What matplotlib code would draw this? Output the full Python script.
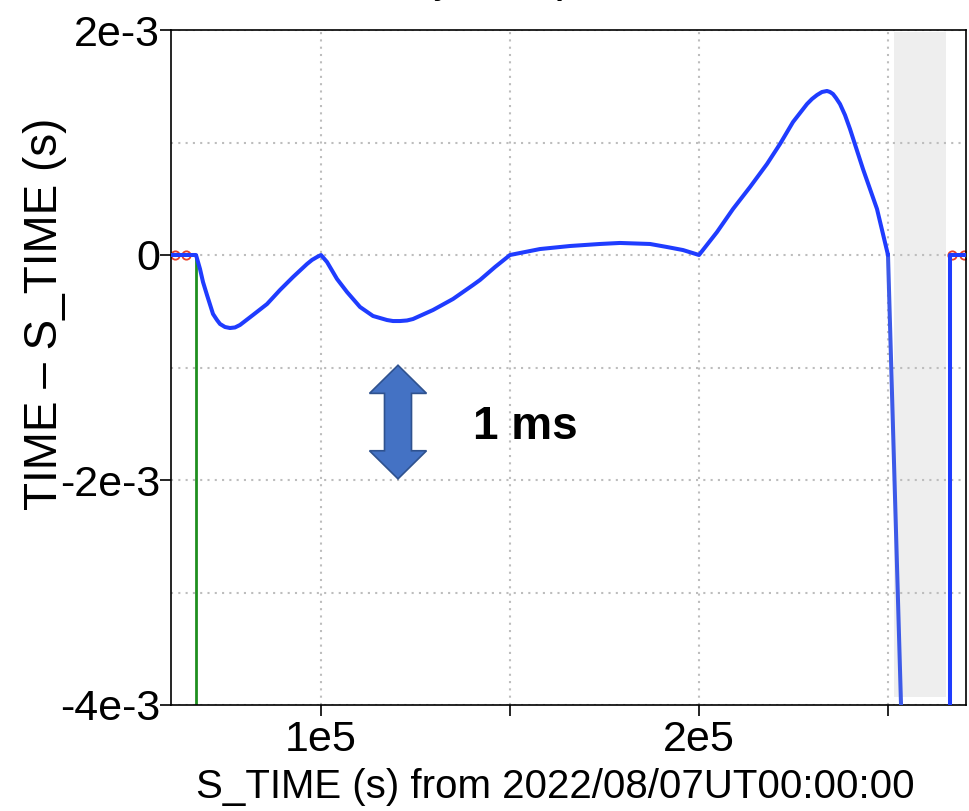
import numpy as np
import matplotlib.pyplot as plt
from matplotlib.patches import Polygon
from matplotlib.ticker import FixedLocator

plt.rcParams['font.family'] = ['Liberation Sans', 'DejaVu Sans']

# S_TIME (s) and TIME - S_TIME (s) for the main trace
s_time = [60317, 66931, 67989, 68783, 69841, 71428, 72486, 73280, 74602, 75925,
          77248, 78571, 82010, 85714, 89153, 92592, 96296, 97619, 98942, 100000,
          101587, 104233, 106878, 110317, 113756, 117460, 119048, 120899, 122751,
          124338, 129629, 134920, 140211, 142063, 146031, 150000, 157936, 165873,
          173809, 179100, 187037, 191534, 195767, 200000, 204762, 208995, 213492,
          217989, 221428, 224867, 228571, 229894, 231217, 232539, 233862, 234656,
          235449, 236243, 237301, 238624, 239947, 243386, 247090, 250000]
delta = [0.0, 0.0, -0.124e-3, -0.240e-3, -0.356e-3, -0.524e-3, -0.578e-3, -0.613e-3,
         -0.640e-3, -0.649e-3, -0.644e-3, -0.622e-3, -0.533e-3, -0.436e-3, -0.311e-3,
         -0.196e-3, -0.080e-3, -0.044e-3, -0.018e-3, 0.0, -0.062e-3, -0.213e-3,
         -0.329e-3, -0.462e-3, -0.542e-3, -0.578e-3, -0.587e-3, -0.587e-3, -0.582e-3,
         -0.569e-3, -0.489e-3, -0.391e-3, -0.267e-3, -0.222e-3, -0.107e-3, 0.0,
         0.053e-3, 0.080e-3, 0.098e-3, 0.107e-3, 0.098e-3, 0.071e-3, 0.044e-3, 0.0,
         0.204e-3, 0.409e-3, 0.604e-3, 0.809e-3, 0.987e-3, 1.182e-3, 1.342e-3,
         1.387e-3, 1.422e-3, 1.449e-3, 1.458e-3, 1.449e-3, 1.431e-3, 1.396e-3,
         1.342e-3, 1.244e-3, 1.120e-3, 0.764e-3, 0.409e-3, 0.0]

# the jump at the end of the pass and the recovered trace
jump_x = [250000, 253703]
jump_y = [0.0, -4.3e-3]
tail_x = [266402, 266402, 271000]
tail_y = [-4.3e-3, 0.0, 0.0]

# reference samples (red circles)
ref_x = [61300, 64200, 266800, 270000]
ref_y = [0.0, 0.0, 0.0, 0.0]

# start marker (green) and gap interval (grey)
start_x = 66931
gap_x = [251600, 265300]
gap_y = [-3.93e-3, 1.98e-3]

# 1 ms scale arrow
arrow_x = 120370
arrow_y = [-0.98e-3, -1.99e-3]

fig = plt.figure(figsize=(9.69, 8.11), dpi=100)
ax = fig.add_axes([171 / 969, 106 / 811, 795 / 969, 675 / 811])

ax.fill_between(gap_x, gap_y[0], gap_y[1], color='#eeeeee', lw=0, zorder=0.2)
ax.plot([start_x, start_x], [0, -4.5e-3], color='#1f8f1f', lw=2.0, zorder=2)
ax.plot(jump_x, jump_y, color='#3d5ae8', lw=2.9, zorder=3)
ax.plot(tail_x, tail_y, color='#1f3cff', lw=2.9, zorder=3)
ax.plot(ref_x, ref_y, 'o', ms=6, mfc='none', mec='#e8402a', mew=1.3, zorder=2.5)
ax.plot(s_time, delta, color='#1f3cff', lw=2.9, zorder=3,
        solid_joinstyle='round', solid_capstyle='round')

# double headed block arrow
hw, sw, hl = 7540, 3571, 0.25e-3
top, bot = arrow_y
verts = [(arrow_x, top), (arrow_x + hw, top - hl), (arrow_x + sw, top - hl),
         (arrow_x + sw, bot + hl), (arrow_x + hw, bot + hl), (arrow_x, bot),
         (arrow_x - hw, bot + hl), (arrow_x - sw, bot + hl), (arrow_x - sw, top - hl),
         (arrow_x - hw, top - hl)]
ax.add_patch(Polygon(verts, closed=True, facecolor='#4472c4', edgecolor='#2f528f',
                     lw=1.2, zorder=4))
ax.text(140210, -1.53e-3, '1 ms', fontsize=33, fontweight='bold', va='center', ha='left')

ax.set_xlim(60317, 270635)
ax.set_ylim(-4e-3, 2e-3)

ax.xaxis.set_major_locator(FixedLocator([1e5, 2e5]))
ax.xaxis.set_minor_locator(FixedLocator([1.5e5, 2.5e5]))
ax.set_xticklabels(['1e5', '2e5'])
ax.yaxis.set_major_locator(FixedLocator([-4e-3, -2e-3, 0, 2e-3]))
ax.yaxis.set_minor_locator(FixedLocator([-3e-3, -1e-3, 1e-3]))
ax.set_yticklabels(['-4e-3', '-2e-3', '0', '2e-3'])

ax.tick_params(axis='x', which='both', direction='out', length=8, width=1.2, labelsize=31, pad=3)
ax.tick_params(axis='y', which='major', direction='out', length=8, width=1.2, labelsize=31, pad=0)
ax.tick_params(axis='y', which='minor', length=0)

ax.set_axisbelow(True)
ax.grid(True, which='both', color='#bdbdbd', linestyle=(0, (1, 2.5)), linewidth=1.5)
for sp in ax.spines.values():
    sp.set_linewidth(1.2)

ax.set_xlabel('S_TIME (s) from 2022/08/07UT00:00:00', fontsize=29)
ax.xaxis.set_label_coords(0.483, -0.093)
ax.set_ylabel('TIME \u2013 S_TIME (s)', fontsize=33, va='center')
ax.yaxis.set_label_coords(-0.158, 0.58)

# title sits mostly above the top edge, only descenders show
fig.text(0.5, 1.0 + 6 / 811, 'Delay in sample', fontsize=22, fontweight='bold',
         ha='center', va='baseline')

fig.savefig('out.png', dpi=100)
